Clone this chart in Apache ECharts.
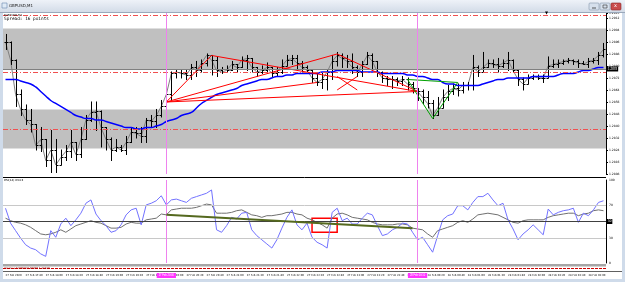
<!DOCTYPE html>
<html>
<head>
<meta charset="utf-8">
<script src="https://cdn.jsdelivr.net/npm/echarts@6/dist/echarts.min.js"></script>
<style>
html, body { margin: 0; padding: 0; background: #fff; }
#chart { width: 625px; height: 282px; }
</style>
</head>
<body>
<div id="chart"></div>
<script>
// prices are kept in points: 12896 -> 1.2896
const closePts = [
  12896, 12884, 12861, 12851, 12844, 12841, 12827, 12831, 12817, 12824,
  12814, 12819, 12823, 12829, 12821, 12831, 12844, 12849, 12850, 12839,
  12831, 12824, 12826, 12824, 12829, 12836, 12835, 12833, 12844, 12843,
  12847, 12853, 12861, 12875, 12876, 12875, 12874, 12879, 12877, 12882,
  12887, 12884, 12877, 12876, 12877, 12881, 12879, 12884, 12885, 12879,
  12876, 12877, 12879, 12875, 12876, 12880, 12884, 12885, 12882, 12879,
  12877, 12872, 12869, 12871, 12876, 12883, 12887, 12885, 12883, 12879,
  12876, 12881, 12887, 12883, 12876, 12872, 12871, 12871, 12870, 12871,
  12868, 12865, 12863, 12859, 12855, 12847, 12852, 12859, 12863, 12865,
  12864, 12867, 12867, 12879, 12876, 12879, 12882, 12881, 12880, 12882,
  12884, 12877, 12871, 12868, 12872, 12873, 12872, 12872, 12880, 12881,
  12882, 12883, 12884, 12883, 12882, 12881, 12883, 12884, 12887, 12891
];
const highPts = [
  12901, 12896, 12884, 12864, 12854, 12851, 12841, 12839, 12831, 12837,
  12831, 12824, 12827, 12837, 12829, 12839, 12847, 12856, 12856, 12850,
  12839, 12832, 12831, 12827, 12833, 12839, 12839, 12839, 12845, 12847,
  12851, 12857, 12867, 12876, 12877, 12877, 12877, 12881, 12883, 12884,
  12888, 12887, 12886, 12879, 12880, 12883, 12881, 12886, 12887, 12885,
  12879, 12880, 12882, 12879, 12879, 12884, 12887, 12887, 12887, 12883,
  12880, 12877, 12875, 12875, 12877, 12887, 12889, 12888, 12887, 12888,
  12880, 12883, 12889, 12888, 12883, 12876, 12873, 12873, 12872, 12873,
  12872, 12869, 12865, 12864, 12863, 12857, 12859, 12864, 12867, 12868,
  12868, 12869, 12869, 12887, 12880, 12889, 12884, 12884, 12885, 12884,
  12889, 12884, 12877, 12872, 12874, 12874, 12874, 12874, 12886, 12884,
  12884, 12884, 12885, 12884, 12884, 12883, 12885, 12885, 12889, 12895
];
const lowPts = [
  12891, 12881, 12853, 12847, 12841, 12836, 12824, 12823, 12813, 12809,
  12809, 12814, 12817, 12819, 12817, 12819, 12831, 12843, 12837, 12826,
  12824, 12817, 12823, 12823, 12821, 12829, 12832, 12829, 12829, 12839,
  12839, 12846, 12851, 12857, 12872, 12872, 12871, 12871, 12873, 12876,
  12880, 12874, 12873, 12875, 12876, 12877, 12876, 12879, 12877, 12876,
  12873, 12875, 12875, 12873, 12873, 12875, 12880, 12881, 12877, 12876,
  12875, 12869, 12867, 12865, 12864, 12871, 12880, 12879, 12879, 12875,
  12873, 12873, 12881, 12877, 12873, 12869, 12867, 12865, 12867, 12867,
  12864, 12862, 12857, 12855, 12852, 12845, 12847, 12852, 12857, 12861,
  12860, 12862, 12864, 12864, 12873, 12876, 12879, 12879, 12876, 12879,
  12877, 12876, 12867, 12864, 12868, 12871, 12871, 12869, 12872, 12879,
  12879, 12881, 12882, 12881, 12879, 12881, 12879, 12882, 12881, 12886
];
const maPts = [
  12871, 12871, 12871, 12870, 12869, 12868, 12866, 12863, 12860, 12857,
  12855, 12853, 12851, 12849, 12847, 12846, 12845, 12845, 12844, 12844,
  12843, 12842, 12841, 12840, 12839, 12839, 12838, 12838, 12839, 12839,
  12840, 12841, 12843, 12844, 12845, 12847, 12848, 12849, 12852, 12855,
  12857, 12859, 12861, 12862, 12863, 12864, 12865, 12867, 12868, 12869,
  12870, 12871, 12871, 12872, 12873, 12873, 12874, 12874, 12875, 12875,
  12875, 12875, 12875, 12876, 12876, 12876, 12877, 12877, 12877, 12877,
  12877, 12876, 12876, 12876, 12876, 12875, 12875, 12875, 12875, 12875,
  12874, 12874, 12873, 12873, 12872, 12871, 12871, 12869, 12868, 12868,
  12867, 12867, 12867, 12867, 12867, 12868, 12869, 12870, 12871, 12871,
  12872, 12872, 12872, 12872, 12872, 12873, 12873, 12873, 12873, 12873,
  12874, 12875, 12875, 12875, 12876, 12877, 12877, 12878, 12879, 12879
];
const rsiMain = [
  66, 48, 39, 30, 22, 18, 16, 11, 8, 39,
  31, 47, 54, 45, 52, 60, 72, 76, 59, 51,
  45, 37, 39, 46, 58, 64, 66, 46, 70, 72,
  75, 81, 70, 76, 77, 75, 73, 78, 80, 82,
  84, 88, 40, 37, 45, 55, 53, 60, 61, 40,
  33, 28, 23, 18, 28, 42, 55, 64, 46, 40,
  48, 31, 25, 22, 18, 61, 66, 51, 54, 47,
  47, 54, 60, 58, 45, 33, 35, 40, 43, 48,
  47, 37, 28, 31, 22, 13, 33, 52, 57, 59,
  69, 69, 64, 73, 80, 80, 84, 76, 69, 72,
  52, 41, 28, 35, 40, 46, 40, 34, 65, 58,
  61, 63, 64, 66, 49, 60, 57, 64, 73, 75
];
const rsiSignal = [
  54, 51, 49, 48, 46, 43, 39, 35, 34, 35,
  37, 40, 37, 41, 45, 47, 49, 51, 49, 48,
  45, 42, 42, 43, 47, 49, 48, 48, 52, 53,
  54, 59, 58, 64, 65, 66, 66, 66, 67, 69,
  71, 70, 60, 60, 60, 61, 63, 64, 61, 58,
  57, 55, 57, 57, 58, 59, 61, 61, 59, 58,
  54, 52, 49, 46, 42, 54, 59, 60, 58, 55,
  54, 53, 52, 49, 47, 46, 46, 46, 47, 47,
  46, 42, 41, 40, 35, 31, 39, 41, 43, 45,
  49, 51, 49, 53, 58, 59, 60, 59, 58, 55,
  52, 49, 48, 51, 52, 52, 52, 52, 55, 57,
  58, 59, 60, 60, 57, 59, 60, 63, 64, 63
];
// one label every 4 bars
const timeLabels = [
  '27 Feb 2020', '27 Feb 17:40', '27 Feb 18:00', '27 Feb 18:20', '27 Feb 18:40',
  '27 Feb 19:00', '27 Feb 19:20', '27 Feb 19:40', '27 Feb 20:00', '27 Feb 20:20',
  '27 Feb 20:40', '27 Feb 21:00', '27 Feb 21:20', '27 Feb 21:40', '27 Feb 22:00',
  '27 Feb 22:20', '27 Feb 22:40', '27 Feb 23:00', '27 Feb 23:20', '27 Feb 23:40',
  '28 Feb 00:00', '28 Feb 00:20', '28 Feb 00:40', '28 Feb 01:00', '28 Feb 01:20',
  '28 Feb 01:40', '28 Feb 02:00', '28 Feb 02:20', '28 Feb 02:40', '28 Feb 03:00'
];
// drawn objects: [bar, points]
const redLines = [
  [[32, 12856], [41, 12887]],
  [[41, 12887], [82, 12863]],
  [[32, 12856], [66, 12888]],
  [[66, 12888], [82, 12863]],
  [[32, 12856], [82, 12863]],
  [[32, 12856], [62, 12869]],
  [[66, 12873], [70, 12864]],
  [[66, 12864], [70, 12873]]
];
const greenLines = [
  [[80, 12871], [85, 12845]],
  [[85, 12845], [90, 12869]],
  [[80, 12871], [90, 12869]]
];
const upperBand = [12905, 12878];
const lowerBand = [12851, 12825];
const dashLevels = [12914, 12876, 12838];
const bidLevel = 12878;
const rsiLevels = [70, 50, 30];
const rsiTrend = [[32, 58], [81, 42]];
const rsiBox = [[61, 54], [66, 37]];
const vLines = [32, 82];
const vLineLabels = ['27 Feb 20:00', '28 Feb 00:10'];

const bars = closePts.map((c, i) => String(i));
const ohlc = closePts.map((c, i) => [i, i ? closePts[i - 1] : c, c, lowPts[i], highPts[i]]);

const chart = echarts.init(document.getElementById('chart'));

const segSeries = (segs, color, grid) => segs.map(s => ({
  type: 'line', xAxisIndex: grid, yAxisIndex: grid, data: s, symbol: 'none',
  lineStyle: { color: color, width: 1 }, z: 4, silent: true
}));

const magenta = '#ee82ee';

chart.setOption({
  animation: false,
  backgroundColor: '#fff',
  grid: [
    { left: 3, top: 13, width: 603, height: 161 },
    { left: 3, top: 180, width: 603, height: 83 }
  ],
  xAxis: [
    { type: 'category', gridIndex: 0, data: bars, axisLine: { show: false }, axisTick: { show: false }, axisLabel: { show: false } },
    {
      type: 'category', gridIndex: 1, data: bars, axisLine: { show: false }, axisTick: { show: false },
      axisLabel: {
        interval: (i) => i % 4 === 0,
        formatter: (v, i) => timeLabels[i / 4] || '',
        align: 'left', fontSize: 2.6, margin: 11, color: '#000', fontFamily: 'DejaVu Sans'
      }
    }
  ],
  yAxis: [
    {
      gridIndex: 0, position: 'right', min: 12808, max: 12915.3, interval: 8,
      axisLine: { show: true, lineStyle: { color: '#000' } },
      axisTick: { show: true, length: 2, lineStyle: { color: '#000' } },
      splitLine: { show: false },
      axisLabel: { fontSize: 3, margin: 3, color: '#000', fontFamily: 'DejaVu Sans', formatter: v => (v / 10000).toFixed(4) }
    },
    {
      gridIndex: 1, position: 'right', min: 0, max: 100, interval: 10,
      axisLine: { show: true, lineStyle: { color: '#000' } },
      axisTick: { show: false },
      splitLine: { show: false },
      axisLabel: { fontSize: 3, margin: 3, color: '#000', fontFamily: 'DejaVu Sans', formatter: v => [0, 30, 70, 100].includes(v) ? String(v) : '' }
    }
  ],
  series: [
    // carrier for bands and levels
    {
      type: 'line', xAxisIndex: 0, yAxisIndex: 0, data: closePts, symbol: 'none',
      lineStyle: { opacity: 0 }, z: 1, silent: true,
      markArea: {
        silent: true,
        itemStyle: { color: '#c0c0c0' },
        data: [
          [{ yAxis: upperBand[0] }, { yAxis: upperBand[1] }],
          [{ yAxis: lowerBand[0] }, { yAxis: lowerBand[1] }]
        ]
      },
      markLine: {
        silent: true, symbol: 'none', animation: false,
        data: dashLevels.map(v => ({ yAxis: v, label: { show: false }, lineStyle: { color: '#f05050', type: [5, 2, 1, 2], width: 1 } }))
          .concat([{ yAxis: bidLevel, lineStyle: { color: '#808080', type: 'solid', width: 1 },
            label: { show: true, position: 'end', distance: 1, formatter: (bidLevel / 10000).toFixed(4), backgroundColor: '#000', color: '#fff', fontSize: 3, padding: [1, 1] } }])
          .concat(vLines.map(b => ({ xAxis: b, label: { show: false }, lineStyle: { color: magenta, type: 'solid', width: 1 } })))
      }
    },
    {
      type: 'line', xAxisIndex: 0, yAxisIndex: 0, data: closePts, symbol: 'none',
      lineStyle: { color: '#808080', width: 1 }, z: 2, silent: true
    },
    {
      type: 'custom', xAxisIndex: 0, yAxisIndex: 0, data: ohlc, z: 3, silent: true,
      encode: { x: 0, y: [1, 2, 3, 4] },
      renderItem: function (params, api) {
        const i = api.value(0);
        const hi = api.coord([i, api.value(4)]);
        const lo = api.coord([i, api.value(3)]);
        const op = api.coord([i, api.value(1)]);
        const cl = api.coord([i, api.value(2)]);
        const x = Math.round(hi[0]) + 0.5;
        const oy = Math.round(op[1]) + 0.5;
        const cy = Math.round(cl[1]) + 0.5;
        const st = { stroke: '#000', lineWidth: 1 };
        return {
          type: 'group', children: [
            { type: 'line', shape: { x1: x, y1: hi[1] - 0.5, x2: x, y2: lo[1] + 0.5 }, style: st },
            { type: 'line', shape: { x1: x - 2, y1: oy, x2: x, y2: oy }, style: st },
            { type: 'line', shape: { x1: x, y1: cy, x2: x + 2, y2: cy }, style: st }
          ]
        };
      }
    },
    {
      type: 'line', xAxisIndex: 0, yAxisIndex: 0, data: maPts, symbol: 'none', smooth: true,
      lineStyle: { color: '#0000ff', width: 1.5 }, z: 4, silent: true
    },
    ...segSeries(redLines, '#ff0000', 0),
    ...segSeries(greenLines, '#00a000', 0),
    // indicator window
    {
      type: 'line', xAxisIndex: 1, yAxisIndex: 1, data: rsiSignal, symbol: 'none',
      lineStyle: { color: '#707070', width: 1 }, z: 3, silent: true,
      markLine: {
        silent: true, symbol: 'none', animation: false,
        data: rsiLevels.map(v => ({
          yAxis: v,
          lineStyle: { color: v === 50 ? '#404040' : '#c8c8c8', type: 'solid', width: 1 },
          label: v === 50
            ? { show: true, position: 'end', distance: 1, formatter: '50', backgroundColor: '#000', color: '#fff', fontSize: 3, padding: [1, 1] }
            : { show: false }
        })).concat(vLines.map((b, k) => ({
          xAxis: b, lineStyle: { color: magenta, type: 'solid', width: 1 },
          label: { show: true, position: 'start', distance: 10, formatter: vLineLabels[k], backgroundColor: '#ff33ff', color: '#fff', fontSize: 2.6, padding: [1, 2] }
        })))
      },
      markArea: {
        silent: true,
        itemStyle: { color: 'rgba(0,0,0,0)', borderColor: '#ff0000', borderWidth: 1.5 },
        data: [[{ xAxis: rsiBox[0][0], yAxis: rsiBox[0][1] }, { xAxis: rsiBox[1][0], yAxis: rsiBox[1][1] }]]
      }
    },
    {
      type: 'line', xAxisIndex: 1, yAxisIndex: 1, data: rsiMain, symbol: 'none',
      lineStyle: { color: '#7272ff', width: 1 }, z: 4, silent: true
    },
    {
      type: 'line', xAxisIndex: 1, yAxisIndex: 1, data: rsiTrend, symbol: 'none',
      lineStyle: { color: '#55691f', width: 2 }, z: 5, silent: true
    }
  ],
  graphic: [
    // window frame and title bar
    { type: 'rect', z: -10, silent: true, shape: { x: 0, y: 0, width: 3, height: 282 }, style: { fill: '#cfdbea' } },
    { type: 'rect', z: -10, silent: true, shape: { x: 622, y: 0, width: 3, height: 282 }, style: { fill: '#cfdbea' } },
    { type: 'rect', z: -10, silent: true, shape: { x: 0, y: 279, width: 625, height: 3 }, style: { fill: '#cfdbea' } },
    {
      type: 'rect', z: 10, silent: true, shape: { x: 0, y: 0, width: 625, height: 12 },
      style: { fill: new echarts.graphic.LinearGradient(0, 0, 0, 1, [{ offset: 0, color: '#eef2f8' }, { offset: 1, color: '#d3dce8' }]) }
    },
    { type: 'line', z: 10, silent: true, shape: { x1: 0, y1: 12.5, x2: 625, y2: 12.5 }, style: { stroke: '#9aa8ba', lineWidth: 1 } },
    { type: 'rect', z: 11, silent: true, shape: { x: 2, y: 3, width: 5, height: 5 }, style: { fill: '#dfeaf6', stroke: '#6a88b0', lineWidth: 0.6 } },
    { type: 'text', z: 11, silent: true, x: 9, y: 4, style: { text: 'GBPUSD,M1', fontSize: 4, fill: '#222', fontFamily: 'DejaVu Sans' } },
    { type: 'rect', z: 11, silent: true, shape: { x: 589, y: 3, width: 10, height: 7, r: 1 }, style: { fill: '#d6e0ec', stroke: '#8797ad', lineWidth: 0.6 } },
    { type: 'rect', z: 11, silent: true, shape: { x: 600, y: 3, width: 10, height: 7, r: 1 }, style: { fill: '#d6e0ec', stroke: '#8797ad', lineWidth: 0.6 } },
    { type: 'rect', z: 11, silent: true, shape: { x: 611, y: 3, width: 10, height: 7, r: 1 }, style: { fill: '#c94c4c', stroke: '#8a2a2a', lineWidth: 0.6 } },
    { type: 'line', z: 12, silent: true, shape: { x1: 592, y1: 8, x2: 596, y2: 8 }, style: { stroke: '#333', lineWidth: 0.8 } },
    { type: 'rect', z: 12, silent: true, shape: { x: 603, y: 5, width: 4, height: 3 }, style: { fill: 'none', stroke: '#333', lineWidth: 0.6 } },
    { type: 'text', z: 12, silent: true, x: 614, y: 3.5, style: { text: 'x', fontSize: 5, fill: '#fff', fontFamily: 'DejaVu Sans' } },
    // chart texts
    { type: 'text', z: 12, silent: true, x: 4, y: 13.5, style: { text: '\u25BEGBPUSD,M1', fontSize: 2.8, fill: '#000', fontFamily: 'DejaVu Sans' } },
    { type: 'text', z: 12, silent: true, x: 4, y: 16.5, style: { text: 'Spread: 16 points', fontSize: 4.4, fill: '#000', fontFamily: 'DejaVu Sans Mono' } },
    { type: 'text', z: 12, silent: true, x: 545, y: 11, style: { text: '\u25BC', fontSize: 4, fill: '#000', fontFamily: 'DejaVu Sans' } },
    { type: 'line', z: 12, silent: true, shape: { x1: 3, y1: 177.5, x2: 606, y2: 177.5 }, style: { stroke: '#000', lineWidth: 1 } },
    { type: 'text', z: 12, silent: true, x: 4, y: 179, style: { text: 'RSI(14) 63.03', fontSize: 2.8, fill: '#000', fontFamily: 'DejaVu Sans' } },
    // bottom strip window
    { type: 'rect', z: 12, silent: true, shape: { x: 3, y: 264, width: 603, height: 2.5 }, style: { fill: '#a6a6a6' } },
    { type: 'line', z: 12, silent: true, shape: { x1: 3, y1: 268.5, x2: 606, y2: 268.5 }, style: { stroke: '#d00000', lineWidth: 1, lineDash: [3, 1] } },
    { type: 'text', z: 13, silent: true, x: 4, y: 266.5, style: { text: 'Volumes 0.00000 0.00000 1.28830', fontSize: 2.6, fill: '#900000', fontFamily: 'DejaVu Sans' } },
    { type: 'line', z: 12, silent: true, shape: { x1: 3, y1: 271.5, x2: 622, y2: 271.5 }, style: { stroke: '#606060', lineWidth: 1 } }
  ]
});
</script>
</body>
</html>
